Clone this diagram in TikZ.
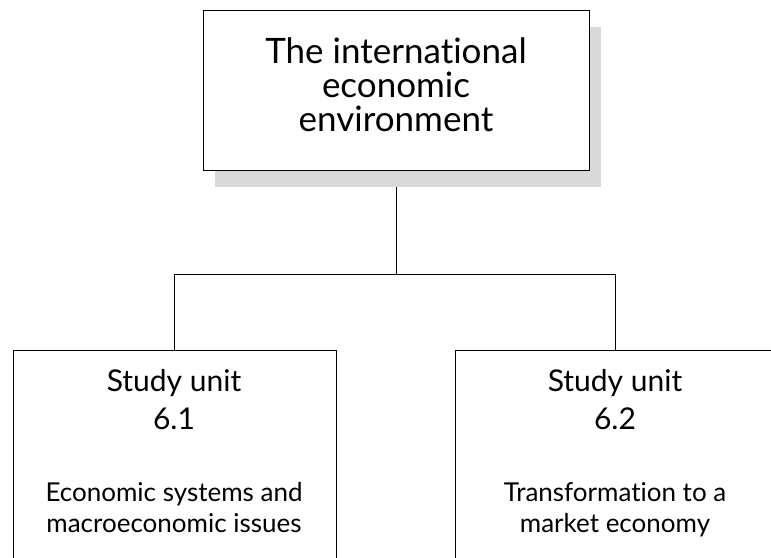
\documentclass[tikz,border=0pt]{standalone}
\usepackage{fontspec}
\setmainfont{Lato}[Ligatures=NoCommon]
\usetikzlibrary{shadows,backgrounds}

\begin{document}
\begin{tikzpicture}[x=1pt, y=1pt]
	\tikzstyle{box} = [draw, line width=1pt, rectangle, inner sep=0pt]
	\tikzstyle{title} = [align=center, font=\fontsize{35}{34}\selectfont, inner sep=0pt]
	\tikzstyle{heading} = [align=center, font=\fontsize{30}{38}\selectfont, inner sep=0pt, anchor=north]
	\tikzstyle{topic} = [align=center, font=\fontsize{26}{31}\selectfont, inner sep=0pt, anchor=north]
	\useasboundingbox (0,0) rectangle (771,-557);
	\clip (0,0) rectangle (771,-557);
	\node [box, fill=white, minimum width=386, minimum height=160, drop shadow={shadow xshift=12pt, shadow yshift=-17pt, fill=gray!30, opacity=1}] (env) at (396,-90) {};
	\node [title] (envtext) at (396,-85) {The international\\economic\\environment};
	\node [box, minimum width=323, minimum height=240, anchor=north] (unit1) at (174.5,-350) {};
	\node [box, minimum width=320, minimum height=240, anchor=north] (unit2) at (615,-350) {};
	\node [heading] (head1) at (174,-369) {Study unit\\6.1};
	\node [heading] (head2) at (615,-369) {Study unit\\6.2};
	\node [topic] (topic1) at (174,-482) {Economic systems and\\macroeconomic issues};
	\node [topic] (topic2) at (615,-482) {Transformation to a\\market economy};
	\coordinate (split) at ([yshift=-104pt]env.south);
	\begin{scope}[on background layer]
		\draw [-, line width=1pt] (env.south)--(split);
		\draw [-, line width=1pt] (unit1.north) |- (split) -| (unit2.north);
	\end{scope}
\end{tikzpicture}
\end{document}
